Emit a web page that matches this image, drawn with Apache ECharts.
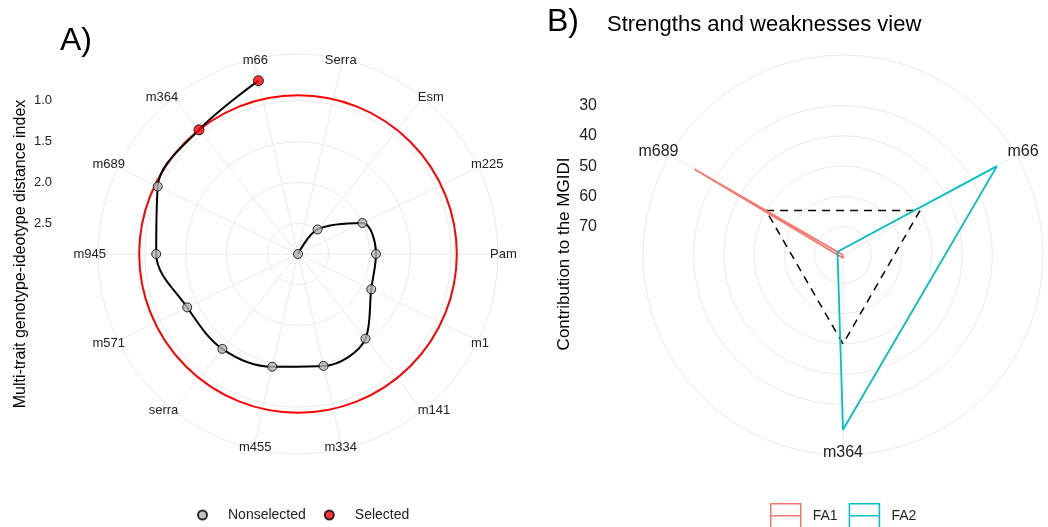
<!DOCTYPE html>
<html>
<head>
<meta charset="utf-8">
<title>MGIDI selection</title>
<script src="https://cdn.jsdelivr.net/npm/echarts@6/dist/echarts.min.js"></script>
<style>
  html, body { margin: 0; padding: 0; background: #fff; }
  #chart { width: 1048px; height: 527px; }
</style>
</head>
<body>
<div id="chart"></div>
<script>
// A) MGIDI per genotype, clockwise from the top (highest index first)
const genotypes = ['Serra', 'Esm', 'm225', 'Pam', 'm1', 'm141', 'm334', 'm455', 'serra', 'm571', 'm945', 'm689', 'm364', 'm66']
const mgidi = [2.874, 2.49, 2.0, 1.92, 1.88, 1.55, 1.47, 1.46, 1.39, 1.37, 1.14, 0.97, 0.932, 0.70]
const selectedGen = ['m364', 'm66']
const cutPoint = 0.932
const indexTicks = [1.0, 1.5, 2.0, 2.5]

// B) contribution of each factor to the MGIDI of the selected genotypes
const swGenotypes = ['m66', 'm364', 'm689']
const fa1 = [79.4, 78.4, 22.7]
const fa2 = [20.6, 21.6, 77.3]
const ideal = [50, 50, 50]
const contribTicks = [30, 40, 50, 60, 70]

const FONT = '"Liberation Sans", Arial, sans-serif'
const GRID_COL = '#ebebeb'
const TEXT_COL = '#222'
const COL_FA1 = '#F8766D'
const COL_FA2 = '#00BFC4'
const R = 200
const centerA = [298, 254]
const centerB = [843, 255]

// ggplot polar: data range on 0..0.4 of the panel, outer ring at 0.45
function outerLimit(values) {
  const lo = Math.min(...values)
  const hi = Math.max(...values)
  return {min: hi - (hi - lo) * 1.125, max: hi}
}
const limA = outerLimit(mgidi)
const limB = outerLimit(fa1.concat(fa2))

// full circles at given radius values, drawn through the polar scale
function ringSeries(polarIndex, values, firstCat, color, width, z) {
  return {
    type: 'custom',
    coordinateSystem: 'polar',
    polarIndex: polarIndex,
    silent: true,
    z: z,
    data: values.map(v => [v, firstCat]),
    renderItem: (params, api) => {
      const cs = params.coordSys
      const p = api.coord([api.value(0), api.value(1)])
      return {
        type: 'circle',
        shape: {cx: cs.cx, cy: cs.cy, r: Math.hypot(p[0] - cs.cx, p[1] - cs.cy)},
        style: {fill: 'none', stroke: color, lineWidth: width}
      }
    }
  }
}

// spokes from the centre to the outer ring, one per category
function spokeSeries(polarIndex, cats, outer) {
  return {
    type: 'custom',
    coordinateSystem: 'polar',
    polarIndex: polarIndex,
    silent: true,
    z: 1,
    data: cats.map(c => [outer, c]),
    renderItem: (params, api) => {
      const cs = params.coordSys
      const p = api.coord([api.value(0), api.value(1)])
      return {
        type: 'line',
        shape: {x1: cs.cx, y1: cs.cy, x2: p[0], y2: p[1]},
        style: {stroke: GRID_COL, lineWidth: 1}
      }
    }
  }
}

function closed(values, cats) {
  const pts = cats.map((c, i) => [values[i], c])
  return pts.concat([pts[0]])
}

function angleAxis(polarIndex, cats, fontSize, margin) {
  return {
    polarIndex: polarIndex,
    type: 'category',
    data: cats,
    startAngle: 90,
    clockwise: true,
    boundaryGap: true,
    z: 10,
    axisLine: {show: false},
    axisTick: {show: false},
    axisLabel: {interval: 0, margin: margin, color: TEXT_COL, fontSize: fontSize, fontFamily: FONT},
    splitLine: {show: false}
  }
}

function radiusAxis(polarIndex, lim) {
  return {
    polarIndex: polarIndex,
    type: 'value',
    min: lim.min,
    max: lim.max,
    inverse: true,
    axisLine: {show: false},
    axisTick: {show: false},
    axisLabel: {show: false},
    splitLine: {show: false}
  }
}

function labelAxis(gridIndex, lim, ticks, step, fontSize, fmt) {
  return {
    gridIndex: gridIndex,
    type: 'value',
    min: lim.min,
    max: lim.max,
    inverse: true,
    minInterval: step,
    maxInterval: step,
    axisLine: {show: false},
    axisTick: {show: false},
    splitLine: {show: false},
    axisLabel: {
      margin: 8,
      color: TEXT_COL,
      fontSize: fontSize,
      fontFamily: FONT,
      customValues: ticks,
      formatter: v => ticks.some(t => Math.abs(t - v) < 1e-6) ? fmt(v) : ''
    }
  }
}

const pathData = genotypes.map((g, i) => [mgidi[i], g])
const legendBox = 'path://M0,0H30V24H0ZM0,12H30'

const option = {
  animation: false,
  backgroundColor: '#fff',
  textStyle: {fontFamily: FONT},
  title: [
    {text: 'A)', left: 60, top: 25, padding: 0, textStyle: {fontSize: 32, fontWeight: 'normal', color: '#000', fontFamily: FONT}},
    {text: 'B)', left: 547, top: 6, padding: 0, textStyle: {fontSize: 32, fontWeight: 'normal', color: '#000', fontFamily: FONT}},
    {text: 'Strengths and weaknesses view', left: 607, top: 14, padding: 0, textStyle: {fontSize: 22, fontWeight: 'normal', color: '#000', fontFamily: FONT}}
  ],
  graphic: [
    {type: 'text', x: 21, y: 254, rotation: Math.PI / 2, silent: true,
     style: {text: 'Multi-trait genotype-ideotype distance index', fontSize: 16, fontFamily: FONT, fill: '#000', align: 'center', verticalAlign: 'middle'}},
    {type: 'text', x: 564, y: 254, rotation: Math.PI / 2, silent: true,
     style: {text: 'Contribution to the MGIDI', fontSize: 17, fontFamily: FONT, fill: '#000', align: 'center', verticalAlign: 'middle'}}
  ],
  legend: [
    {
      left: 197, top: 508, padding: 0, itemWidth: 9, itemHeight: 9, itemGap: 18, selectedMode: false,
      data: ['Nonselected', 'Selected'],
      textStyle: {fontSize: 14, color: TEXT_COL, fontFamily: FONT, padding: [0, 0, 0, 16]}
    },
    {
      left: 770, top: 503, padding: 0, itemWidth: 30, itemHeight: 24, itemGap: 11, selectedMode: false,
      data: [
        {name: 'FA1', icon: legendBox, itemStyle: {color: 'rgba(0,0,0,0)', borderColor: COL_FA1, borderWidth: 1.5}},
        {name: 'FA2', icon: legendBox, itemStyle: {color: 'rgba(0,0,0,0)', borderColor: COL_FA2, borderWidth: 1.5}}
      ],
      textStyle: {fontSize: 14, color: TEXT_COL, fontFamily: FONT, padding: [0, 0, 0, 7]}
    }
  ],
  polar: [
    {center: centerA, radius: R},
    {center: centerB, radius: R}
  ],
  angleAxis: [
    angleAxis(0, genotypes, 13, -8),
    angleAxis(1, swGenotypes, 16, -10)
  ],
  radiusAxis: [
    radiusAxis(0, limA),
    radiusAxis(1, limB)
  ],
  grid: [
    {left: 60, top: centerA[1] - R, width: 1, height: R},
    {left: 605, top: centerB[1] - R, width: 1, height: R}
  ],
  xAxis: [
    {gridIndex: 0, type: 'value', show: false},
    {gridIndex: 1, type: 'value', show: false}
  ],
  yAxis: [
    labelAxis(0, limA, indexTicks, 0.5, 13, v => v.toFixed(1)),
    labelAxis(1, limB, contribTicks, 10, 16, v => String(v))
  ],
  series: [
    ringSeries(0, [limA.min].concat(indexTicks), genotypes[0], GRID_COL, 1, 1),
    spokeSeries(0, genotypes, limA.min),
    ringSeries(0, [cutPoint], genotypes[0], '#FF0000', 2, 2),
    {
      type: 'line', name: 'path', coordinateSystem: 'polar', polarIndex: 0,
      data: pathData, smooth: 0.35, showSymbol: false, silent: true, z: 3,
      lineStyle: {color: '#000', width: 2}
    },
    {
      type: 'scatter', name: 'Nonselected', coordinateSystem: 'polar', polarIndex: 0, z: 4,
      data: pathData.filter(d => !selectedGen.includes(d[1])),
      symbolSize: 9,
      itemStyle: {color: '#b3b3b3', borderColor: '#000', borderWidth: 1}
    },
    {
      type: 'scatter', name: 'Selected', coordinateSystem: 'polar', polarIndex: 0, z: 4,
      data: pathData.filter(d => selectedGen.includes(d[1])),
      symbolSize: 10,
      itemStyle: {color: '#FF0000', borderColor: '#000', borderWidth: 1}
    },
    ringSeries(1, [limB.min].concat(contribTicks), swGenotypes[0], GRID_COL, 1, 1),
    spokeSeries(1, swGenotypes, limB.min),
    {
      type: 'line', name: 'ideal', coordinateSystem: 'polar', polarIndex: 1,
      data: closed(ideal, swGenotypes), showSymbol: false, silent: true, z: 2,
      lineStyle: {color: '#000', width: 1.5, type: [8, 6]}
    },
    {
      type: 'line', name: 'FA1', coordinateSystem: 'polar', polarIndex: 1,
      data: closed(fa1, swGenotypes), showSymbol: false, z: 3,
      color: COL_FA1, lineStyle: {color: COL_FA1, width: 1.8}
    },
    {
      type: 'line', name: 'FA2', coordinateSystem: 'polar', polarIndex: 1,
      data: closed(fa2, swGenotypes), showSymbol: false, z: 3,
      color: COL_FA2, lineStyle: {color: COL_FA2, width: 1.8}
    }
  ]
}

const chart = echarts.init(document.getElementById('chart'))
chart.setOption(option)
window.addEventListener('resize', () => chart.resize())
</script>
</body>
</html>
